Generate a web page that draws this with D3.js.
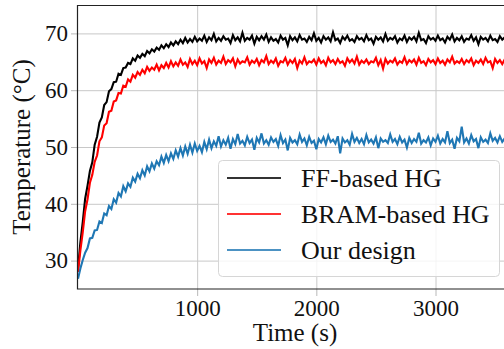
<!DOCTYPE html>
<html>
<head>
<meta charset="utf-8">
<script src="https://cdn.jsdelivr.net/npm/d3@7"></script>
<style>
  body { margin: 0; background: #fff; }
  svg { display: block; }
  text { font-family: "Liberation Serif", "Times New Roman", serif; fill: #111; }
</style>
</head>
<body>
<svg id="chart" width="504" height="349"></svg>
<script>
// samples every 20 s, from 0 s to 3600 s
const timeStep = 20;

const ffTemp = [
  28.5, 33.2, 36.8, 40.9, 43.2, 45.8, 47.3, 50.4, 51.8, 54.3,
  55.2, 57.4, 57.9, 59.8, 60.2, 61.4, 61.5, 62.9, 62.7, 63.9,
  64.0, 64.8, 64.6, 65.6, 65.2, 66.1, 65.7, 66.4, 66.0, 66.9,
  66.5, 67.2, 66.8, 67.5, 67.1, 67.9, 67.4, 68.1, 67.6, 68.4,
  67.9, 68.6, 68.1, 68.9, 68.3, 69.2, 68.4, 69.0, 68.5, 69.4,
  68.6, 69.1, 68.7, 69.6, 68.5, 69.3, 68.8, 69.9, 68.6, 69.2,
  68.7, 69.5, 68.9, 69.1, 68.3, 69.7, 68.8, 69.3, 68.6, 70.1,
  68.7, 69.2, 68.9, 69.6, 68.2, 69.4, 68.8, 69.5, 68.9, 69.8,
  68.5, 69.3, 68.7, 69.0, 68.4, 69.6, 68.9, 69.2, 67.9, 69.5,
  68.8, 69.3, 68.6, 69.7, 68.9, 69.1, 68.5, 69.4, 68.8, 70.0,
  68.7, 69.2, 68.4, 69.5, 68.9, 69.3, 68.6, 70.2, 68.8, 69.1,
  68.3, 69.4, 68.9, 69.6, 68.7, 69.0, 68.5, 69.5, 68.9, 69.2,
  68.6, 69.7, 68.8, 69.1, 68.2, 69.4, 68.9, 69.3, 68.6, 69.9,
  68.7, 69.2, 68.9, 69.5, 68.4, 69.1, 68.8, 69.6, 68.5, 69.3,
  68.9, 69.4, 68.6, 70.1, 68.8, 69.0, 68.3, 69.5, 68.9, 69.2,
  68.7, 69.6, 68.8, 69.1, 68.4, 69.4, 68.9, 69.8, 68.6, 69.2,
  68.8, 69.5, 68.5, 69.1, 68.9, 69.7, 68.7, 69.3, 68.1, 69.4,
  68.9, 69.2, 68.6, 69.6, 68.8, 69.0, 68.5, 69.5, 68.9, 69.3,
  68.7
];

const bramTemp = [
  28.0, 31.8, 35.0, 38.7, 40.8, 43.7, 45.1, 47.4, 48.5, 51.0,
  51.7, 53.8, 54.2, 56.2, 56.4, 58.0, 58.2, 59.5, 59.4, 60.8,
  60.6, 61.9, 61.5, 62.7, 62.2, 63.2, 62.7, 63.6, 63.0, 64.1,
  63.4, 64.0, 63.6, 64.5, 63.5, 64.4, 63.9, 64.8, 64.0, 65.1,
  64.2, 64.9, 64.3, 65.4, 64.5, 64.9, 64.1, 65.5, 64.6, 65.2,
  64.4, 65.6, 64.7, 65.1, 63.9, 65.4, 64.8, 65.7, 64.5, 65.2,
  64.8, 65.9, 64.6, 65.3, 64.9, 65.6, 64.2, 65.4, 64.7, 65.1,
  64.9, 65.8, 64.5, 65.2, 64.8, 65.5, 64.4, 65.3, 64.9, 66.0,
  64.6, 65.2, 64.8, 65.6, 64.3, 65.1, 64.9, 65.7, 64.5, 65.3,
  64.8, 65.5, 63.9, 65.2, 64.7, 65.8, 64.6, 65.1, 64.9, 65.4,
  64.5, 65.6, 64.8, 65.2, 64.4, 65.7, 64.9, 65.3, 64.6, 65.5,
  64.8, 65.1, 64.3, 65.6, 64.9, 65.4, 64.7, 65.9, 64.5, 65.2,
  64.8, 65.4, 64.6, 65.1, 64.9, 65.7, 64.4, 65.3, 63.8, 65.5,
  64.7, 65.2, 64.9, 65.6, 64.5, 65.1, 64.8, 65.8, 64.6, 65.3,
  64.9, 65.4, 64.5, 65.7, 64.8, 65.1, 64.4, 65.5, 64.9, 65.3,
  64.6, 65.6, 64.8, 65.2, 64.5, 65.4, 64.9, 65.9, 64.7, 65.1,
  64.8, 65.5, 64.6, 65.3, 64.9, 65.6, 64.4, 65.2, 64.8, 65.4,
  64.6, 65.7, 64.9, 65.1, 63.9, 65.5, 64.8, 65.3, 64.6, 65.4,
  64.9
];

const ourTemp = [
  26.8, 28.6, 30.1, 31.4, 32.2, 33.9, 34.0, 35.3, 35.4, 36.9,
  36.6, 38.3, 38.0, 39.6, 39.1, 40.8, 40.2, 41.9, 41.3, 43.1,
  42.2, 43.6, 43.0, 44.6, 43.9, 45.3, 44.5, 45.9, 45.0, 46.6,
  45.7, 47.1, 46.2, 47.5, 46.8, 48.3, 47.2, 48.6, 47.5, 48.9,
  47.9, 49.4, 48.3, 49.8, 48.5, 50.1, 48.8, 50.4, 49.0, 50.6,
  49.3, 50.2, 49.1, 50.9, 49.6, 51.3, 49.8, 51.0, 50.2, 51.9,
  50.1, 51.2, 50.4, 51.6, 49.7, 51.4, 50.5, 52.3, 50.6, 51.1,
  50.3, 51.8, 50.7, 51.3, 49.5, 51.6, 50.8, 52.4, 50.6, 51.2,
  50.4, 51.7, 50.9, 51.4, 50.2, 52.1, 50.7, 51.3, 49.4, 51.6,
  50.8, 51.2, 50.5, 52.2, 50.9, 51.5, 50.3, 51.8, 50.7, 51.1,
  49.6, 51.4, 50.8, 51.7, 50.5, 52.0, 50.9, 51.3, 50.6, 51.9,
  48.9, 51.5, 50.8, 51.2, 50.4, 52.3, 50.9, 51.6, 50.7, 51.4,
  50.5, 52.1, 50.8, 51.3, 50.6, 51.7, 49.8, 51.5, 50.9, 51.2,
  50.7, 52.2, 50.9, 51.4, 50.5, 51.8, 50.8, 51.3, 49.9, 51.6,
  50.7, 51.4, 50.9, 52.5, 50.6, 51.2, 50.8, 51.7, 50.3, 51.5,
  50.9, 52.0, 50.6, 51.4, 50.8, 52.8, 50.7, 51.3, 49.7, 51.6,
  51.0, 53.6, 50.8, 51.5, 50.6, 52.1, 51.0, 51.4, 49.8, 51.7,
  50.9, 51.3, 50.7, 52.4, 51.1, 51.6, 50.8, 51.9, 50.9, 51.5,
  51.1
];

const seriesNames = ["FF-based HG", "BRAM-based HG", "Our design"];
const seriesColors = ["#000000", "#ff0000", "#1f77b4"];
const xTicks = [1000, 2000, 3000];
const yTicks = [30, 40, 50, 60, 70];

const margin = { top: 5, left: 78 };
const width = 429;   // runs past the right edge, the original is cropped there
const height = 284;

const svg = d3.select("#chart");

svg.append("defs").append("clipPath")
    .attr("id", "plot-clip")
    .append("rect")
    .attr("width", width)
    .attr("height", height);

const g = svg.append("g")
    .attr("transform", `translate(${margin.left},${margin.top})`);

const x = d3.scaleLinear().domain([0, 3600]).range([0, width]);
const y = d3.scaleLinear().domain([25, 75]).range([height, 0]);

// grid
g.append("g")
    .attr("transform", `translate(0,${height})`)
    .call(d3.axisBottom(x).tickValues(xTicks).tickSize(-height).tickFormat(""))
    .call(a => a.select(".domain").remove())
    .selectAll("line")
    .attr("stroke", "#c8c8c8")
    .attr("stroke-width", 1);

g.append("g")
    .call(d3.axisLeft(y).tickValues(yTicks).tickSize(-width).tickFormat(""))
    .call(a => a.select(".domain").remove())
    .selectAll("line")
    .attr("stroke", "#c8c8c8")
    .attr("stroke-width", 1);

// lines
const series = [ffTemp, bramTemp, ourTemp];
const line = d3.line()
    .x((d, i) => x(i * timeStep))
    .y(d => y(d));

g.append("g")
    .attr("clip-path", "url(#plot-clip)")
    .selectAll("path")
    .data(series)
    .enter()
    .append("path")
    .attr("d", line)
    .attr("fill", "none")
    .attr("stroke", (d, i) => seriesColors[i])
    .attr("stroke-width", 2.1)
    .attr("stroke-linejoin", "miter");

// axes with tick labels
const xAxis = g.append("g")
    .attr("transform", `translate(0,${height})`)
    .call(d3.axisBottom(x).tickValues(xTicks).tickFormat(d3.format("d")).tickSize(7).tickPadding(4));
xAxis.select(".domain").remove();
xAxis.selectAll("line").attr("stroke", "#b8b8b8");
xAxis.selectAll("text").style("font-size", "23px");

const yAxis = g.append("g")
    .call(d3.axisLeft(y).tickValues(yTicks).tickSize(7).tickPadding(3));
yAxis.select(".domain").remove();
yAxis.selectAll("line").attr("stroke", "#b8b8b8");
yAxis.selectAll("text").style("font-size", "23px");

// spines: left, bottom, top
g.append("path")
    .attr("d", `M${width},0.5H-0.5V${height}H${width}`)
    .attr("fill", "none")
    .attr("stroke", "#222")
    .attr("stroke-width", 1.2);

// axis titles
svg.append("text")
    .attr("x", 295)
    .attr("y", 341)
    .attr("text-anchor", "middle")
    .style("font-size", "25px")
    .text("Time (s)");

svg.append("text")
    .attr("transform", "translate(30,147) rotate(-90)")
    .attr("text-anchor", "middle")
    .style("font-size", "25px")
    .text("Temperature (°C)");

// legend
const legend = svg.append("g").attr("transform", "translate(218,160)");

legend.append("rect")
    .attr("x", 0.5)
    .attr("y", 0.5)
    .attr("width", 281)
    .attr("height", 116)
    .attr("rx", 4)
    .attr("fill", "#fff")
    .attr("fill-opacity", 0.8)
    .attr("stroke", "#d6d6d6");

const items = legend.selectAll(".item")
    .data(seriesNames)
    .enter()
    .append("g")
    .attr("transform", (d, i) => `translate(0,${18 + i * 36})`);

items.append("line")
    .attr("x1", 9)
    .attr("x2", 63)
    .attr("stroke", (d, i) => seriesColors[i])
    .attr("stroke-opacity", 0.8)
    .attr("stroke-width", 2);

items.append("text")
    .attr("x", 83)
    .attr("y", 9)
    .style("font-size", "26px")
    .text(d => d);
</script>
</body>
</html>
